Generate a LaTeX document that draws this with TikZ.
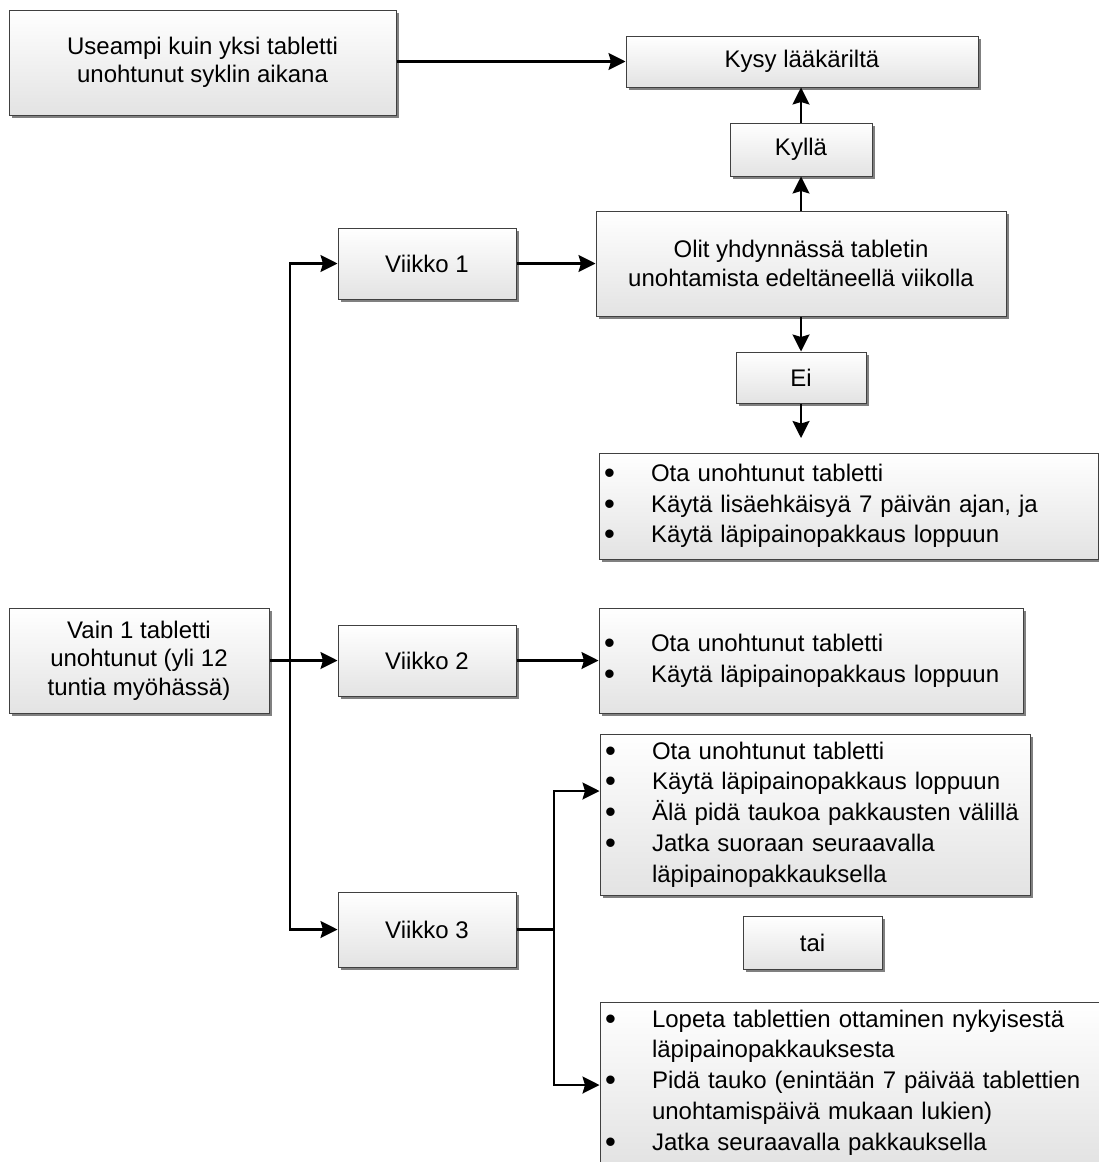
\documentclass[tikz,border=0pt]{standalone}
\usepackage{fontspec}
\setmainfont{Liberation Sans}
\usetikzlibrary{arrows.meta,shadows}
\newcommand{\bdot}{\raisebox{-2pt}{\fontsize{31}{30}\selectfont\textbullet}}
\begin{document}
\begin{tikzpicture}[x=1pt,y=-1pt,
  box/.style={draw=black!75, line width=1pt, top color=white, bottom color=black!11,
    drop shadow={shadow xshift=3pt,shadow yshift=-3pt,fill=black!50,opacity=1},
    inner sep=0pt, align=center, font=\fontsize{24}{28.5}\selectfont},
  listbox/.style={box, align=left, font=\fontsize{24}{30.8}\selectfont},
  arr/.style={line width=2.2pt, -{Stealth[length=17pt,width=17pt,inset=2.5pt]}},
  ln/.style={line width=2.2pt}]
\clip (0,0) rectangle (1099,1162);
\useasboundingbox (0,0) rectangle (1099,1162);

% top row
\node[box, minimum width=387pt, minimum height=105pt] (use) at (202.5,62.5)
  {Useampi kuin yksi tabletti\\unohtunut syklin aikana};
\node[box, minimum width=352pt, minimum height=51pt] (kysy) at (802,61.5) {Kysy lääkäriltä};
\node[box, minimum width=142pt, minimum height=53pt] (kylla) at (801,149.5) {Kyllä};
\node[box, minimum width=410pt, minimum height=105pt] (olit) at (801,263.5)
  {Olit yhdynnässä tabletin\\unohtamista edeltäneellä viikolla};
\node[box, minimum width=130pt, minimum height=51pt] (ei) at (801,377.5) {Ei};
\coordinate (eiend) at (801,438);

\node[listbox, text width=499pt, minimum height=106pt] (b1) at (848.5,506)
  {\hspace*{5pt}\begin{tabular}{@{}p{47pt}@{}l@{}}
   \bdot & Ota unohtunut tabletti\\
   \bdot & Käytä lisäehkäisyä 7 päivän ajan, ja\\
   \bdot & Käytä läpipainopakkaus loppuun
   \end{tabular}};

% left
\node[box, minimum width=260pt, minimum height=105pt] (vain) at (139,660.5)
  {Vain 1 tabletti\\unohtunut (yli 12\\tuntia myöhässä)};
\node[box, minimum width=178pt, minimum height=71pt] (v1) at (427,263.5) {Viikko 1};
\node[box, minimum width=178pt, minimum height=71pt] (v2) at (427,660.5) {Viikko 2};
\node[box, minimum width=178pt, minimum height=75pt] (v3) at (427,929.5) {Viikko 3};

\node[listbox, text width=424pt, minimum height=105pt] (b2) at (811,660.5)
  {\hspace*{5pt}\begin{tabular}{@{}p{47pt}@{}l@{}}
   \bdot & Ota unohtunut tabletti\\
   \bdot & Käytä läpipainopakkaus loppuun
   \end{tabular}};

\node[listbox, text width=430pt, minimum height=161pt] (b3) at (815,814.5)
  {\hspace*{5pt}\begin{tabular}{@{}p{47pt}@{}l@{}}
   \bdot & Ota unohtunut tabletti\\
   \bdot & Käytä läpipainopakkaus loppuun\\
   \bdot & Älä pidä taukoa pakkausten välillä\\
   \bdot & Jatka suoraan seuraavalla\\
         & läpipainopakkauksella
   \end{tabular}};

\node[box, minimum width=139pt, minimum height=53pt] (tai) at (812.5,942.5) {tai};

\node[listbox, text width=502pt, minimum height=161pt] (b4) at (851,1082.5)
  {\hspace*{5pt}\begin{tabular}{@{}p{47pt}@{}l@{}}
   \bdot & Lopeta tablettien ottaminen nykyisestä\\
         & läpipainopakkauksesta\\
   \bdot & Pidä tauko (enintään 7 päivää tablettien\\
         & unohtamispäivä mukaan lukien)\\
   \bdot & Jatka seuraavalla pakkauksella
   \end{tabular}};

% connectors
\draw[arr] (use.east |- kysy.west) -- (kysy.west);
\draw[arr] (kylla.north) -- (kylla.north |- kysy.south);
\draw[arr] (olit.north) -- (kylla.south);
\draw[arr] (olit.south) -- (ei.north);
\draw[arr] (ei.south) -- (eiend);
\draw[arr] (v1.east) -- (olit.west |- v1.east);
\draw[arr] (vain.east) -- (v2.west);
\draw[arr] (v2.east) -- (b2.west |- v2.east);

\coordinate (tr) at (290,660.5);
\draw[arr] (tr) |- (v1.west);
\draw[arr] (tr) |- (v3.west);

\coordinate (br) at (554,929.5);
\coordinate (y3a) at (0,791);
\coordinate (y3b) at (0,1085);
\draw[ln] (v3.east) -- (br);
\draw[arr] (br) |- (b3.west |- y3a);
\draw[arr] (br) |- (b4.west |- y3b);
\end{tikzpicture}
\end{document}
